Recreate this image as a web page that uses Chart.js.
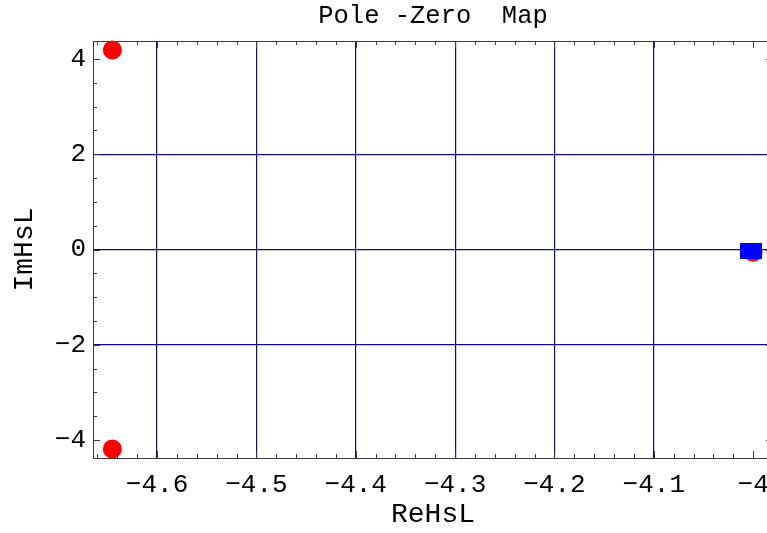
<!DOCTYPE html>
<html>
<head>
<meta charset="utf-8">
<script src="https://cdn.jsdelivr.net/npm/chart.js@4/dist/chart.umd.min.js"></script>
<style>
	html, body { margin: 0; padding: 0; background: #fff; }
	#wrap { width: 767px; height: 533px; overflow: hidden; }
</style>
</head>
<body>
<div id="wrap"><canvas id="pz-map" width="790" height="533"></canvas></div>
<script>
// Poles (red dots) and zeros (blue squares)
const poleRe = [-4.645, -4.645, -4.0];
const poleIm = [4.19, -4.19, -0.06];
const zeroRe = [-4.002];
const zeroIm = [-0.03];

// Tick labels and grid lines
const xTicks = [-4.6, -4.5, -4.4, -4.3, -4.2, -4.1, -4.0];
const yTicks = [-4, -2, 0, 2, 4];
const xGrid = [-4.6, -4.5, -4.4, -4.3, -4.2, -4.1];
const yGrid = [-2, 0, 2];

const navy = 'rgb(12,12,122)';
const frameColor = '#3a3a3a';
const monoFont = "'Liberation Mono', 'DejaVu Sans Mono', monospace";

/* Format number with a real minus sign */
function fmt(v) {
	return v < 0 ? '\u2212' + Math.abs(v) : String(v);
}

function inList(list, v) {
	return list.some(g => Math.abs(g - v) < 1e-9);
}

// Blue rectangle used as the marker of a zero
const zeroMark = document.createElement('canvas');
zeroMark.width = 22;
zeroMark.height = 16;
const zc = zeroMark.getContext('2d');
zc.fillStyle = '#0000ff';
zc.fillRect(0, 0, 22, 16);

/* Frame with inward ticks on all four sides */
const frameTicks = {
	id: 'frameTicks',
	beforeDatasetsDraw(chart) {
		const { ctx, chartArea: a, scales: { x, y } } = chart;
		ctx.save();
		ctx.strokeStyle = frameColor;
		ctx.lineWidth = 1;
		ctx.strokeRect(a.left + 0.5, a.top + 0.5, a.right - a.left, a.bottom - a.top);
		ctx.beginPath();
		// x: minor every 0.02, major every 0.1
		for (let i = Math.ceil(x.min * 50); i <= Math.floor(x.max * 50); i++) {
			const px = Math.round(x.getPixelForValue(i / 50)) + 0.5;
			const len = i % 5 === 0 ? 7 : 4;
			ctx.moveTo(px, a.bottom); ctx.lineTo(px, a.bottom - len);
			ctx.moveTo(px, a.top); ctx.lineTo(px, a.top + len);
		}
		// y: minor every 0.5, major every 2
		for (let i = Math.ceil(y.min * 2); i <= Math.floor(y.max * 2); i++) {
			const py = Math.round(y.getPixelForValue(i / 2)) + 0.5;
			const len = i % 4 === 0 ? 7 : 4;
			ctx.moveTo(a.left, py); ctx.lineTo(a.left + len, py);
			ctx.moveTo(a.right, py); ctx.lineTo(a.right - len, py);
		}
		ctx.stroke();
		ctx.restore();
	}
};

const ctx = document.getElementById('pz-map').getContext('2d');

new Chart(ctx, {
	type: 'scatter',
	data: {
		datasets: [{
			label: 'zeros',
			data: zeroRe.map((re, i) => ({ x: re, y: zeroIm[i] })),
			pointStyle: zeroMark,
			pointRadius: 10,
			order: 0,
			clip: false
		}, {
			label: 'poles',
			data: poleRe.map((re, i) => ({ x: re, y: poleIm[i] })),
			backgroundColor: '#ff0000',
			borderWidth: 0,
			pointRadius: 9.5,
			pointHoverRadius: 9.5,
			order: 1,
			clip: false
		}]
	},
	options: {
		responsive: false,
		animation: false,
		events: [],
		layout: { padding: { left: 0, right: 17, top: 0, bottom: 0 } },
		plugins: {
			legend: { display: false },
			tooltip: { enabled: false },
			title: {
				display: true,
				fullSize: false,
				text: 'Pole -Zero  Map',
				color: '#000',
				font: { family: monoFont, size: 25.5, weight: 'normal', lineHeight: 1.2 },
				padding: { top: 1, bottom: 9.4 }
			}
		},
		scales: {
			x: {
				type: 'linear',
				min: -4.6645,
				max: -3.98,
				afterBuildTicks: scale => { scale.ticks = xTicks.map(value => ({ value })); },
				afterFit: scale => { scale.height = 75; },
				border: { display: false },
				grid: {
					drawTicks: false,
					lineWidth: 1.2,
					color: c => (c.tick && inList(xGrid, c.tick.value)) ? navy : 'rgba(0,0,0,0)'
				},
				ticks: {
					color: '#000',
					padding: 12,
					maxRotation: 0,
					font: { family: monoFont, size: 26 },
					callback: value => fmt(value)
				},
				title: {
					display: true,
					text: 'ReHsL',
					color: '#000',
					font: { family: monoFont, size: 28 },
					padding: { top: 0, bottom: 2 }
				}
			},
			y: {
				type: 'linear',
				min: -4.38,
				max: 4.38,
				afterBuildTicks: scale => { scale.ticks = yTicks.map(value => ({ value })); },
				afterFit: scale => { scale.width = 93; },
				border: { display: false },
				grid: {
					drawTicks: false,
					lineWidth: 1.2,
					color: c => (c.tick && inList(yGrid, c.tick.value)) ? navy : 'rgba(0,0,0,0)'
				},
				ticks: {
					color: '#000',
					padding: 7,
					font: { family: monoFont, size: 26 },
					callback: value => fmt(value)
				},
				title: {
					display: true,
					text: 'ImHsL',
					color: '#000',
					font: { family: monoFont, size: 28 },
					padding: { top: 8, bottom: 0 }
				}
			}
		}
	},
	plugins: [frameTicks]
});
</script>
</body>
</html>
